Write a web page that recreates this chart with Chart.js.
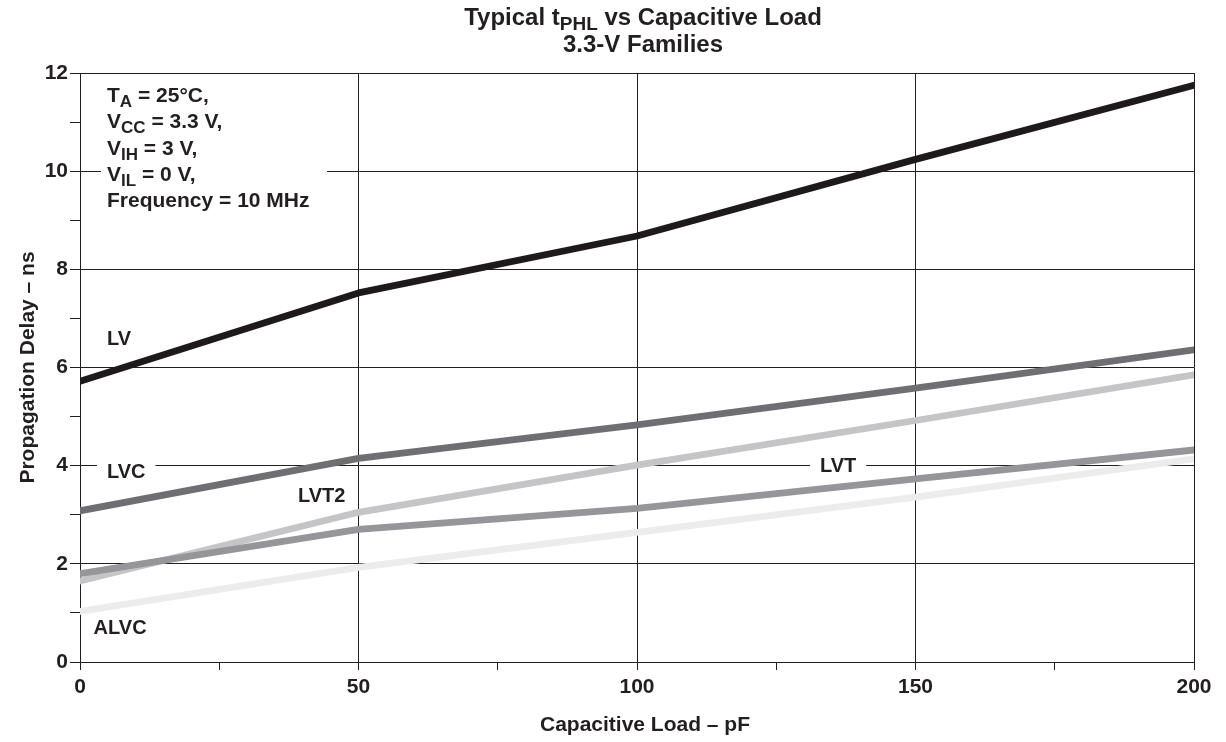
<!DOCTYPE html>
<html><head><meta charset="utf-8">
<script src="https://cdn.jsdelivr.net/npm/chart.js@4.4.1/dist/chart.umd.min.js"></script>
<style>html,body{margin:0;padding:0;background:#fff}#wrap{width:1226px;height:742px;position:relative}</style>
</head><body><div id="wrap"><canvas id="c" width="1226" height="742"></canvas></div>
<script>
// ---- data ----
const loads = [0, 50, 100, 150, 200];            // Capacitive load, pF
const lvDelay   = [5.72, 7.52, 8.68, 10.24, 11.75];
const lvcDelay  = [3.08, 4.15, 4.83, 5.58, 6.36];
const lvtDelay  = [1.80, 2.70, 3.13, 3.73, 4.32];
const lvt2Delay = [1.65, 3.05, 4.01, 4.92, 5.85];
const alvcDelay = [1.03, 1.93, 2.64, 3.36, 4.14];
const seriesNames = ['LV', 'LVC', 'LVT', 'LVT2', 'ALVC'];
const xMajorStep = 50, xMinorStep = 25;
const yMajorStep = 2, yMinorStep = 1;
const xAxisTitle = 'Capacitive Load – pF';
const yAxisTitle = 'Propagation Delay – ns';

// ---- styles ----
const FONT = "'Liberation Sans', Arial, Helvetica, sans-serif";
const DARK = '#231f20';
const colors = ['#1e1a1b', '#6f6e72', '#96969a', '#c5c5c7', '#ececed'];

function pts(arr) { return loads.map((x, i) => ({x: x, y: arr[i]})); }
const seriesData = [lvDelay, lvcDelay, lvtDelay, lvt2Delay, alvcDelay];

// label anchors in data space (pF, ns)
const labelPos = {
  LV:   [7.0, 6.58],
  LVC:  [8.3, 3.87],
  LVT2: [43.4, 3.38],
  LVT:  [136.1, 3.99],
  ALVC: [7.2, 0.69]
};

function richWidth(ctx, parts, size) {
  let w = 0;
  for (const p of parts) {
    ctx.font = 'bold ' + (p.sub ? Math.round(size * 0.8) : size) + 'px ' + FONT;
    w += ctx.measureText(p.t).width;
  }
  return w;
}
function drawRich(ctx, parts, x, y, size, align) {
  const w = richWidth(ctx, parts, size);
  let cx = align === 'center' ? x - w / 2 : x;
  ctx.textAlign = 'left';
  ctx.textBaseline = 'alphabetic';
  ctx.fillStyle = DARK;
  for (const p of parts) {
    const s = p.sub ? Math.round(size * 0.8) : size;
    ctx.font = 'bold ' + s + 'px ' + FONT;
    ctx.fillText(p.t, cx, y + (p.sub ? 5 : 0));
    cx += ctx.measureText(p.t).width;
  }
}

const textPlugin = {
  id: 'texts',
  beforeDatasetsDraw(chart) {
    const ctx = chart.ctx, ca = chart.chartArea;
    const xs = chart.scales.x, ys = chart.scales.y;
    ctx.save();
    // condition box
    ctx.fillStyle = '#ffffff';
    ctx.fillRect(ca.left + 21, ca.top + 5, 226, 138);
    const lines = [
      [{t: 'T'}, {t: 'A', sub: true}, {t: ' = 25°C,'}],
      [{t: 'V'}, {t: 'CC', sub: true}, {t: ' = 3.3 V,'}],
      [{t: 'V'}, {t: 'IH', sub: true}, {t: ' = 3 V,'}],
      [{t: 'V'}, {t: 'IL', sub: true}, {t: ' = 0 V,'}],
      [{t: 'Frequency = 10 MHz'}]
    ];
    lines.forEach((l, i) => drawRich(ctx, l, ca.left + 27, ca.top + 29 + i * 26.3, 21, 'left'));
    // series labels
    ctx.font = 'bold 20px ' + FONT;
    for (const name of seriesNames) {
      const p = labelPos[name];
      const px = xs.getPixelForValue(p[0]), py = ys.getPixelForValue(p[1]);
      const w = ctx.measureText(name).width;
      ctx.fillStyle = '#ffffff';
      ctx.fillRect(px - w / 2 - 10, py - 11, w + 20, 22);
      ctx.fillStyle = DARK;
      ctx.textAlign = 'center';
      ctx.textBaseline = 'middle';
      ctx.fillText(name, px, py);
    }
    ctx.restore();
  },
  afterDraw(chart) {
    const ctx = chart.ctx;
    ctx.save();
    drawRich(ctx, [{t: 'Typical t'}, {t: 'PHL', sub: true}, {t: ' vs Capacitive Load'}], 643, 25, 24, 'center');
    drawRich(ctx, [{t: '3.3-V Families'}], 643, 51.5, 24, 'center');
    // x axis title
    ctx.font = 'bold 21px ' + FONT;
    ctx.fillStyle = DARK;
    ctx.textAlign = 'center';
    ctx.textBaseline = 'middle';
    ctx.fillText(xAxisTitle, 645, 725);
    ctx.restore();
  }
};

const tickFont = {family: FONT, size: 21, weight: 'bold'};
const titleFont = {family: FONT, size: 21, weight: 'bold', lineHeight: 1};

new Chart(document.getElementById('c'), {
  type: 'line',
  data: {
    datasets: seriesNames.map((n, i) => ({
      label: n,
      data: pts(seriesData[i]),
      borderColor: colors[i],
      backgroundColor: colors[i],
      borderWidth: 6.8,
      borderCapStyle: 'round',
      borderJoinStyle: 'round',
      pointRadius: 0,
      tension: 0,
      fill: false
    }))
  },
  options: {
    responsive: false,
    animation: false,
    devicePixelRatio: 1,
    layout: {padding: {top: 73, right: 32, left: 0, bottom: 0}},
    plugins: {legend: {display: false}, tooltip: {enabled: false}, title: {display: false}},
    scales: {
      x: {
        type: 'linear', min: 0, max: 200, position: 'bottom',
        ticks: {stepSize: xMinorStep, autoSkip: false, maxRotation: 0, color: DARK, font: tickFont, padding: 5,
                callback: v => (v % xMajorStep === 0 ? String(v) : '')},
        grid: {color: c => (c.tick && c.tick.value % xMajorStep === 0) ? DARK : 'rgba(0,0,0,0)',
               tickColor: DARK, tickLength: 8, lineWidth: 1},
        border: {color: DARK, width: 1},
        title: {display: false, text: xAxisTitle},
        afterFit: s => { s.height = 80; }
      },
      y: {
        type: 'linear', min: 0, max: 12, position: 'left',
        ticks: {stepSize: yMinorStep, autoSkip: false, color: DARK, font: tickFont, padding: 2,
                callback: v => (v % yMajorStep === 0 ? String(v) : '')},
        grid: {color: c => (c.tick && c.tick.value % yMajorStep === 0) ? DARK : 'rgba(0,0,0,0)',
               tickColor: DARK, tickLength: 10, lineWidth: 1},
        border: {color: DARK, width: 1},
        title: {display: true, text: yAxisTitle, color: DARK, font: titleFont, padding: {top: 18, bottom: 0}},
        afterFit: s => { s.width = 80; }
      }
    }
  },
  plugins: [textPlugin]
});
</script>
</body></html>
